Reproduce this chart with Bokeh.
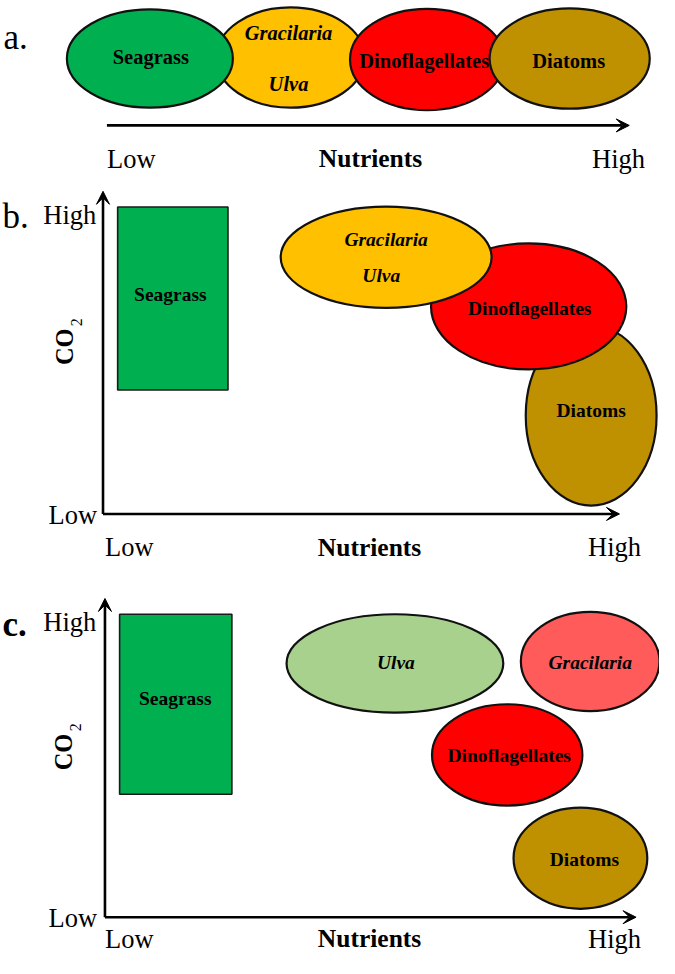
from bokeh.plotting import figure
from bokeh.models import Range1d, Arrow, VeeHead
from bokeh.core.properties import value
from bokeh.embed import file_html
from bokeh.resources import INLINE

FONT = "Liberation Serif"
GREEN, YELLOW, RED, BROWN = "#00B050", "#FFC000", "#FF0000", "#BF9000"
LGREEN, PINK = "#A9D18E", "#FF5B5B"

# ---------------- Panel a: single nutrient axis ----------------
a_groups = ["Gracilaria/Ulva", "Seagrass", "Dinoflagellates", "Diatoms"]
a_colors = [YELLOW, GREEN, RED, BROWN]
a_cx = [297, 153, 437, 583]
a_cy = [58, 59, 60, 59]
a_w = [152, 170, 158, 164]
a_h = [102, 100, 103, 102]
a_labels = ["Seagrass", "Gracilaria", "Ulva", "Dinoflagellates", "Diatoms"]
a_label_x = [154, 295, 295, 434, 582]
a_label_y = [57, 33, 85, 62, 62]
a_label_style = ["bold", "bold italic", "bold italic", "bold", "bold"]

# ---------------- Panel b: nutrients vs CO2 ----------------
b_rect = dict(name="Seagrass", left=120, right=233, top=210, bottom=396)
b_groups = ["Diatoms", "Dinoflagellates", "Gracilaria/Ulva"]
b_colors = [BROWN, RED, YELLOW]
b_cx = [605, 541, 395]
b_cy = [422, 311, 261]
b_w = [134, 200, 216]
b_h = [183, 128, 103]
b_labels = ["Seagrass", "Gracilaria", "Ulva", "Dinoflagellates", "Diatoms"]
b_label_x = [174, 395, 390, 542, 605]
b_label_y = [299, 243, 280, 313, 417]
b_label_style = ["bold", "bold italic", "bold italic", "bold", "bold"]

# ---------------- Panel c: nutrients vs CO2 ----------------
c_rect = dict(name="Seagrass", left=122, right=237, top=624, bottom=807)
c_groups = ["Ulva", "Gracilaria", "Dinoflagellates", "Diatoms"]
c_colors = [LGREEN, PINK, RED, BROWN]
c_cx = [404, 604, 519, 594]
c_cy = [674, 672, 767, 872]
c_w = [222, 142, 154, 137]
c_h = [100, 101, 103, 103]
c_labels = ["Seagrass", "Ulva", "Gracilaria", "Dinoflagellates", "Diatoms"]
c_label_x = [179, 405, 604, 521, 598]
c_label_y = [710, 673, 673, 768, 873]
c_label_style = ["bold", "bold italic", "bold italic", "bold", "bold"]

W, H = 659, 958
p = figure(width=W, height=H, output_backend="svg", toolbar_location=None,
           x_range=Range1d(0, 675), y_range=Range1d(974, 0),
           min_border=0, min_border_left=0, min_border_right=0,
           min_border_top=0, min_border_bottom=0)
p.axis.visible = False
p.grid.visible = False
p.outline_line_color = None
p.background_fill_color = "white"
p.border_fill_color = "white"


def txt(x, y, t, size, style="normal", align="center", baseline="middle", angle=0.0):
    p.text(x=x, y=y, text=t, text_font=value(FONT), text_font_size=f"{size}px",
           text_font_style=style, text_align=align, text_baseline=baseline,
           angle=angle, text_color="black")


def arrow(x0, y0, x1, y1):
    p.add_layout(Arrow(end=VeeHead(size=13, fill_color="black", line_color="black", line_width=1),
                       x_start=x0, y_start=y0, x_end=x1, y_end=y1,
                       line_width=2.6, line_color="black"))


def ellipses(cx, cy, w, h, colors):
    p.ellipse(x=cx, y=cy, width=w, height=h, fill_color=colors,
              line_color="#111111", line_width=2.2)


def labels(xs, ys, ts, styles, size):
    for x, y, t, s in zip(xs, ys, ts, styles):
        txt([x], [y], [t], size, style=s)


# ---- panel a ----
ellipses(a_cx, a_cy, a_w, a_h, a_colors)
labels(a_label_x, a_label_y, a_labels, a_label_style, 20.5)
arrow(109, 127, 644, 127)
txt([3], [38], ["a."], 35, align="left", baseline="alphabetic")
txt([134], [161], ["Low"], 26.5, baseline="alphabetic")
txt([379], [161], ["Nutrients"], 25.5, style="bold", baseline="alphabetic")
txt([633], [161], ["High"], 26.5, baseline="alphabetic")


def co2(x, y):
    txt([x], [y], ["CO"], 24.5, style="bold", angle=1.5708)
    txt([x + 12], [y - 25], ["2"], 16, angle=1.5708)


def panel_axes(x0, y0, ytop, xend, letter, letter_style, lowy_base, bottom_base, co2_xy):
    arrow(x0, y0, x0, ytop)
    arrow(x0, y0, xend, y0)
    txt([2], [ytop + 26], [letter], 35, style=letter_style, align="left", baseline="alphabetic")
    txt([71], [ytop + 24], ["High"], 26.5, baseline="alphabetic")
    txt([74], [lowy_base], ["Low"], 26.5, baseline="alphabetic")
    txt([132], [bottom_base], ["Low"], 26.5, baseline="alphabetic")
    txt([378], [bottom_base], ["Nutrients"], 25.5, style="bold", baseline="alphabetic")
    txt([629], [bottom_base], ["High"], 26.5, baseline="alphabetic")
    co2(*co2_xy)


# ---- panel b ----
p.quad(left=[b_rect["left"]], right=[b_rect["right"]], top=[b_rect["top"]], bottom=[b_rect["bottom"]],
       fill_color=GREEN, line_color="#1a1a1a", line_width=1.6)
ellipses(b_cx, b_cy, b_w, b_h, b_colors)
labels(b_label_x, b_label_y, b_labels, b_label_style, 19.5)
panel_axes(105, 522, 194, 634, "b.", "normal", 523, 556, (66, 352))

# ---- panel c ----
p.quad(left=[c_rect["left"]], right=[c_rect["right"]], top=[c_rect["top"]], bottom=[c_rect["bottom"]],
       fill_color=GREEN, line_color="#1a1a1a", line_width=1.6)
ellipses(c_cx, c_cy, c_w, c_h, c_colors)
labels(c_label_x, c_label_y, c_labels, c_label_style, 19.5)
panel_axes(107, 932, 608, 651, "c.", "bold", 933, 954, (65, 764))

open("out.html", "w").write(file_html(p, INLINE))
